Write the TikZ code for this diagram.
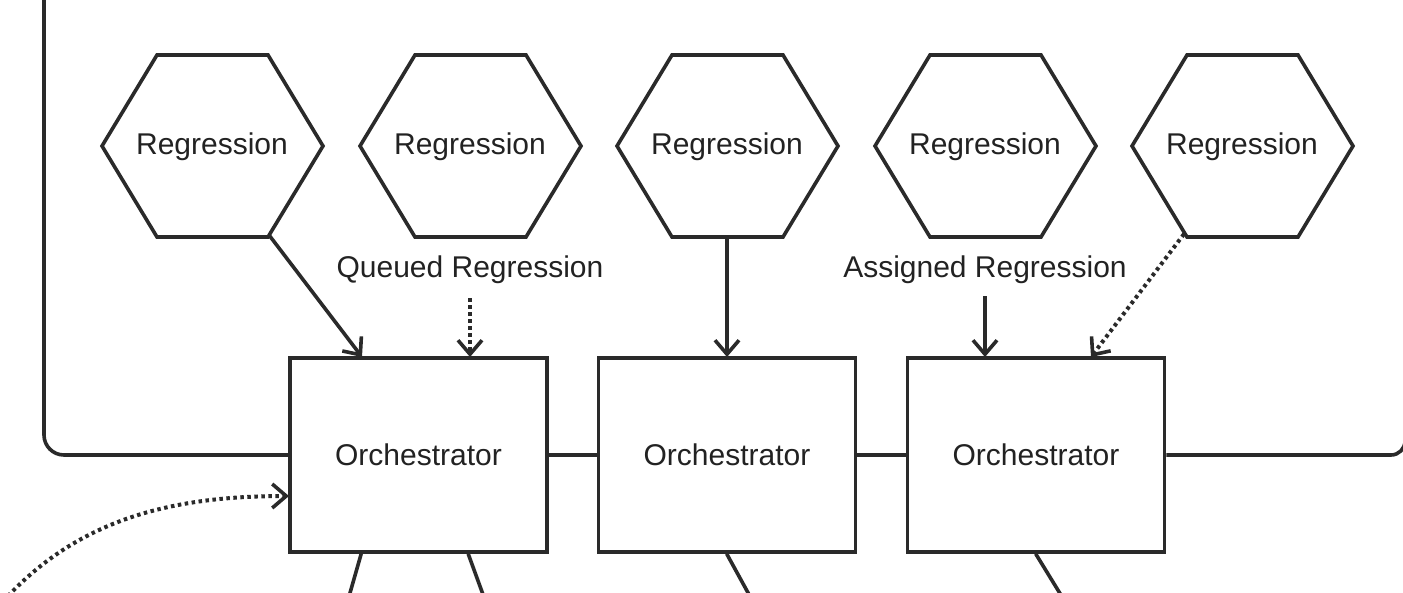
\documentclass[tikz,border=0pt]{standalone}
\usepackage{fontspec}
\setmainfont{Liberation Sans}
\usetikzlibrary{arrows.meta,calc}
\definecolor{ln}{HTML}{2A2A2A}
\definecolor{tx}{HTML}{222222}
\tikzset{
  shapeline/.style={draw=ln,line width=3.6pt},
  lbl/.style={text=tx,font=\fontsize{30}{34}\selectfont,inner sep=0pt},
  orch/.style={shapeline,fill=white,minimum width=257pt,minimum height=194pt,text=tx,font=\fontsize{30}{34}\selectfont},
  conn/.style={draw=ln,line width=3.6pt},
  arr/.style={conn,-{Straight Barb[length=14pt,width=24pt]}},
  dotarr/.style={conn,line width=4pt,dash pattern=on 3.5pt off 3.5pt,-{Straight Barb[length=14pt,width=24pt,line width=3.6pt]}},
}
\begin{document}
\begin{tikzpicture}[x=1pt,y=-1pt]
\useasboundingbox (0,0) rectangle (1403,592);
% hexagons
\foreach \i/\cx in {1/212,2/470,3/727,4/985,5/1242}{
  \draw[shapeline,fill=white] (\cx-110,146) -- (\cx-55,55) -- (\cx+56,55) -- (\cx+111,146) -- (\cx+56,237) -- (\cx-55,237) -- cycle;
  \node[lbl] (h\i) at (\cx,147) {Regression};
  \coordinate (h\i-br) at (\cx+56,237);
  \coordinate (h\i-b) at (\cx,237);
  \coordinate (h\i-bl) at (\cx-55,237);
}
% orchestrators
\node[orch] (b1) at (418.5,455) {Orchestrator};
\node[orch] (b2) at (727,455) {Orchestrator};
\node[orch] (b3) at (1036,455) {Orchestrator};
% labels
\node[lbl] (q) at (470,270) {Queued Regression};
\node[lbl] (a) at (985,270) {Assigned Regression};
% loop lines
\coordinate (ltop) at (44,-5);
\coordinate (rtop) at (1405,300);
\draw[conn,rounded corners=20pt] (ltop) |- (b1.west);
\draw[conn,rounded corners=14pt] (b3.east) -| (rtop);
\draw[conn] (b1.east) -- (b2.west);
\draw[conn] (b2.east) -- (b3.west);
% arrows into boxes
\coordinate (t1) at (362,357);
\coordinate (t2) at (470,357);
\coordinate (t3) at (727,357);
\coordinate (t4) at (985,357);
\coordinate (t5) at (1091,357);
\draw[arr] ($(h1-br)+(1,-2)$) -- (t1);
\draw[dotarr] ($(q.south)+(0,14)$) -- (t2);
\draw[arr] (h3-b) -- (t3);
\draw[arr] ($(a.south)+(0,12)$) -- (t4);
\draw[dotarr] ($(h5-bl)+(-3,-3)$) -- (t5);
% dotted curve from lower left
\coordinate (cs) at (8,596);
\coordinate (ce) at (289,496);
\draw[dotarr] (cs) .. controls (80,520) and (170,496) .. (ce);
% lines leaving boxes at bottom
\coordinate (o1a) at (348,600);
\coordinate (o1b) at (485,600);
\coordinate (o2) at (752,600);
\coordinate (o3) at (1064,600);
\draw[conn] ($(b1.south west)+(73,0)$) -- (o1a);
\draw[conn] ($(b1.south west)+(180,0)$) -- (o1b);
\draw[conn] ($(b2.south west)+(130,0)$) -- (o2);
\draw[conn] ($(b3.south west)+(130,0)$) -- (o3);
\end{tikzpicture}
\end{document}
